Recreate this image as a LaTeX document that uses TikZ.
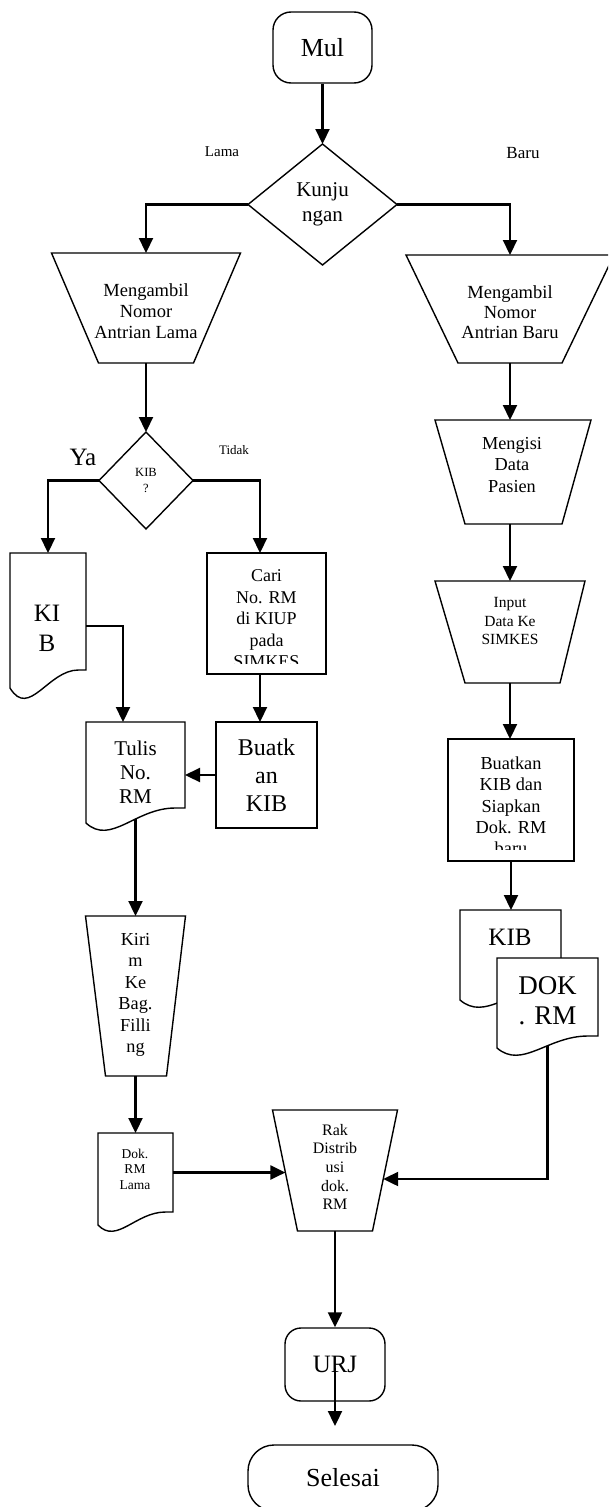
\documentclass[tikz,border=0pt]{standalone}
\usepackage{fontspec}
\setmainfont{Liberation Serif}
\usetikzlibrary{shapes.geometric,arrows.meta}

% document symbol: name, x left, x right, y top, y right corner, left drop, wave depth
\newcommand{\docnode}[7]{%
	\node[boxframe, minimum width={#3-#2}, minimum height={#5-#4}] (#1) at ({(#2+#3)/2},{(#4+#5)/2}) {};
	\draw[outl, fill=white] (#3,#5) -- (#3,#4) -- (#2,#4) -- (#2,{#5+#6})
		.. controls ({#2+0.25*(#3-#2)},{#5+2.4*#7-#6}) and ({(#2+#3)/2},#5) .. ({#3-0.1*(#3-#2)},#5) -- cycle;}

\begin{document}
\begin{tikzpicture}[x=1pt, y=-1pt,
		outl/.style={line width=1.4pt},
		boxframe/.style={inner sep=0pt, outer sep=0pt},
		arr/.style={line width=2.2pt, -{Triangle[length=15pt,width=14pt]}},
		lbl/.style={align=center, inner sep=0pt}]
		\useasboundingbox (0,0) rectangle (608,1507);
		\clip (0,0) rectangle (608,1507);
		
		\node[draw, outl, rounded corners=18, minimum width=99, minimum height=71, font=\fontsize{26}{30}\selectfont] (mul) at (322.5,47.5) {Mul};
		\node[diamond, draw, outl, inner sep=0pt, outer sep=0pt, minimum width=149, minimum height=121, align=center, font=\fontsize{21}{25}\selectfont] (kunj) at (322.5,204.5) {Kunju\\ngan};
		\node[font=\fontsize{15}{18}\selectfont] (lama) at (222,152) {Lama};
		\node[font=\fontsize{17}{20}\selectfont] (baru) at (523,153) {Baru};
		
		% pasien lama
		\node[boxframe, minimum width=189, minimum height=110] (ambilL) at (146,308) {};
		\draw[outl] (ambilL.north west) -- (ambilL.north east) -- ([xshift=-47]ambilL.south east) -- ([xshift=47]ambilL.south west) -- cycle;
		\node[lbl, font=\fontsize{18.5}{21}\selectfont] (ambilL-t) at (146,311) {Mengambil\\Nomor\\Antrian Lama};
		
		\node[diamond, draw, outl, inner sep=0pt, outer sep=0pt, minimum width=94, minimum height=97, align=center, font=\fontsize{12.5}{16}\selectfont] (kibq) at (146,480.5) {KIB\\?};
		\node[font=\fontsize{25}{28}\selectfont] (ya) at (83,457) {Ya};
		\node[font=\fontsize{13}{15}\selectfont] (tidak) at (234,450) {Tidak};
		
		\docnode{kibL}{10}{86}{553}{670}{18}{28}
		\node[lbl, font=\fontsize{25}{30}\selectfont] (kibL-t) at (47,628) {KI\\B};
		
		\node[draw, outl, boxframe, minimum width=119, minimum height=121] (cari) at (266.5,613.5) {};
		\begin{scope}
			\clip (207,553) rectangle (326,663);
			\node[lbl, font=\fontsize{18}{21.5}\selectfont] (cari-t) at (266.5,619) {Cari\\No. RM\\di KIUP\\pada\\SIMKES};
		\end{scope}
		
		\docnode{tulis}{86}{185}{722}{808}{15}{22}
		\node[lbl, font=\fontsize{21}{24}\selectfont] (tulis-t) at (135.5,772) {Tulis\\No.\\RM};
		\node[draw, outl, boxframe, minimum width=101, minimum height=106, align=center, font=\fontsize{24}{28}\selectfont] (buatk) at (266.5,775) {Buatk\\an\\KIB};
		
		\node[boxframe, minimum width=100, minimum height=160] (kirim) at (135.5,996) {};
		\draw[outl] (kirim.north west) -- (kirim.north east) -- ([xshift=-19]kirim.south east) -- ([xshift=20]kirim.south west) -- cycle;
		\node[lbl, font=\fontsize{18.3}{21.4}\selectfont] (kirim-t) at (135.5,995) {Kiri\\m\\Ke\\Bag.\\Filli\\ng};
		
		\docnode{dok}{98}{173}{1133}{1212}{13}{19}
		\node[lbl, font=\fontsize{13.5}{15.5}\selectfont] (dok-t) at (135,1169) {Dok.\\RM\\Lama};
		
		% pasien baru
		\node[boxframe, minimum width=208, minimum height=108] (ambilB) at (510,309) {};
		\draw[outl] (ambilB.north west) -- (ambilB.north east) -- ([xshift=-52]ambilB.south east) -- ([xshift=52]ambilB.south west) -- cycle;
		\node[lbl, font=\fontsize{18.5}{20}\selectfont] (ambilB-t) at (510,312) {Mengambil\\Nomor\\Antrian Baru};
		
		\node[boxframe, minimum width=156, minimum height=104] (isi) at (513,472) {};
		\draw[outl] (isi.north west) -- (isi.north east) -- ([xshift=-29]isi.south east) -- ([xshift=30]isi.south west) -- cycle;
		\node[lbl, font=\fontsize{18.3}{21.5}\selectfont] (isi-t) at (512,465) {Mengisi\\Data\\Pasien};
		
		\node[boxframe, minimum width=150, minimum height=102] (input) at (510,632) {};
		\draw[outl] (input.north west) -- (input.north east) -- ([xshift=-25]input.south east) -- ([xshift=30]input.south west) -- cycle;
		\node[lbl, font=\fontsize{15.5}{18.5}\selectfont] (input-t) at (510,621) {Input\\Data Ke\\SIMKES};
		
		\node[draw, outl, boxframe, minimum width=126, minimum height=122] (buat2) at (511,800) {};
		\begin{scope}
			\clip (448,739) rectangle (574,849);
			\node[lbl, font=\fontsize{18.3}{21.3}\selectfont] (buat2-t) at (511,806) {Buatkan\\KIB dan\\Siapkan\\Dok. RM\\baru};
		\end{scope}
		
		\docnode{kibR}{460}{561}{910}{988}{12}{19}
		\node[font=\fontsize{25}{30}\selectfont, inner sep=0pt] (kibR-t) at (510,937) {KIB};
		\docnode{dokrm}{497}{598}{958}{1036}{12}{19}
		\node[lbl, font=\fontsize{27}{30}\selectfont] (dokrm-t) at (547.5,1001) {DOK\\. RM};
		
		% rak dan akhir
		\node[boxframe, minimum width=125, minimum height=121] (rak) at (335,1170.5) {};
		\draw[outl] (rak.north west) -- (rak.north east) -- ([xshift=-25]rak.south east) -- ([xshift=25]rak.south west) -- cycle;
		\node[lbl, font=\fontsize{16}{18.6}\selectfont] (rak-t) at (335,1167) {Rak\\Distrib\\usi\\dok.\\RM};
		\coordinate (rakL) at (285.4,1172.5);
		\coordinate (rakR) at (383.2,1179);
		
		\node[draw, outl, rounded corners=16, minimum width=100, minimum height=73, font=\fontsize{25}{28}\selectfont] (urj) at (335,1364.5) {URJ};
		\node[draw, outl, rounded corners=26, minimum width=190, minimum height=66, font=\fontsize{26}{30}\selectfont] (sel) at (343,1478) {Selesai};
		\coordinate (selTop) at (335,1426);
		
		\draw[arr] (mul.south) -- (kunj.north);
		\draw[arr] (kunj.west) -| (ambilL.north);
		\draw[arr] (kunj.east) -| (ambilB.north);
		\draw[arr] (ambilL.south) -- (kibq.north);
		\draw[arr] (kibq.west) -| (kibL.north);
		\draw[arr] (kibq.east) -| ([xshift=-6.5]cari.north);
		\draw[arr] ([yshift=-14.5]kibL.east) -| ([xshift=-12.5]tulis.north);
		\draw[arr] ([xshift=-6.5]cari.south) -- ([xshift=-6.5]buatk.north);
		\draw[arr] (buatk.west) -- (buatk.west -| tulis.east);
		\draw[arr] ([yshift=-11]tulis.south) -- (kirim.north);
		\draw[arr] (kirim.south) -- (dok.north);
		\draw[arr] (dok.east) -- (rakL);
		\draw[arr] (ambilB.south) -- (ambilB.south |- isi.north);
		\draw[arr] (ambilB.south |- isi.south) -- (ambilB.south |- input.north);
		\draw[arr] (ambilB.south |- input.south) -- (ambilB.south |- buat2.north);
		\draw[arr] (buat2.south) -- (buat2.south |- kibR.north);
		\draw[arr] ([yshift=-10]dokrm.south) |- (rakR);
		\draw[arr] (rak.south) -- (urj.north);
		\draw[arr] ([yshift=-3]urj.center) -- (selTop);
\end{tikzpicture}
\end{document}
